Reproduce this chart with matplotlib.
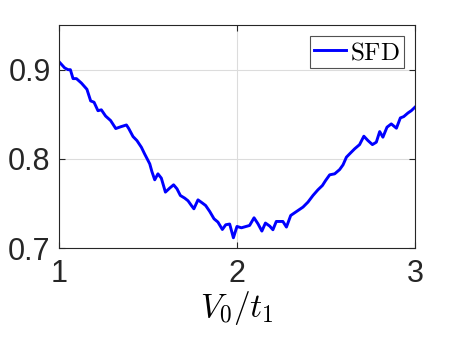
import matplotlib
matplotlib.use("Agg")
import matplotlib.pyplot as plt

plt.rcParams['mathtext.fontset'] = 'cm'
plt.rcParams['font.family'] = ['Liberation Sans', 'DejaVu Sans']

# traced SFD curve
v0_t1 = [1.000, 1.032, 1.051, 1.064, 1.079, 1.098, 1.126, 1.157, 1.178, 1.197,
         1.219, 1.238, 1.262, 1.290, 1.319, 1.347, 1.379, 1.392, 1.416, 1.438,
         1.463, 1.481, 1.510, 1.522, 1.538, 1.556, 1.575, 1.598, 1.622, 1.644,
         1.663, 1.682, 1.706, 1.725, 1.744, 1.758, 1.781, 1.806, 1.824, 1.847,
         1.871, 1.893, 1.918, 1.937, 1.959, 1.980, 2.000, 2.025, 2.071, 2.096,
         2.118, 2.140, 2.160, 2.184, 2.202, 2.221, 2.258, 2.278, 2.302, 2.324,
         2.371, 2.399, 2.427, 2.455, 2.480, 2.498, 2.521, 2.549, 2.577, 2.596,
         2.615, 2.637, 2.661, 2.689, 2.713, 2.736, 2.761, 2.783, 2.802, 2.820,
         2.843, 2.867, 2.896, 2.918, 2.937, 2.961, 2.980, 3.000]
sfd = [0.909, 0.902, 0.900, 0.900, 0.890, 0.890, 0.885, 0.878, 0.865, 0.8635,
       0.854, 0.855, 0.848, 0.843, 0.834, 0.836, 0.838, 0.834, 0.825, 0.8205,
       0.813, 0.8056, 0.7944, 0.7858, 0.7765, 0.7832, 0.7784, 0.7627, 0.7672, 0.7709,
       0.7664, 0.7589, 0.756, 0.753, 0.7477, 0.744, 0.754, 0.7504, 0.7477, 0.741,
       0.7328, 0.7291, 0.7208, 0.7261, 0.7269, 0.7115, 0.7242, 0.7227, 0.7253, 0.7339,
       0.7272, 0.7190, 0.7280, 0.7246, 0.7205, 0.7298, 0.7298, 0.7235, 0.7365, 0.7395,
       0.7459, 0.7515, 0.7589, 0.7653, 0.7701, 0.7757, 0.7821, 0.7832, 0.7880, 0.7933,
       0.8019, 0.8064, 0.8112, 0.8160, 0.8254, 0.8205, 0.8160, 0.8187, 0.8306, 0.8243,
       0.8355, 0.8392, 0.8344, 0.8459, 0.8474, 0.8515, 0.8541, 0.8579]

xticks = [1, 2, 3]
yticks = [0.7, 0.8, 0.9]

fig = plt.figure(figsize=(4.59, 3.44), dpi=100)
ax = fig.add_axes([0.1285, 0.279, 0.7755, 0.648])

ax.plot(v0_t1, sfd, color='#0000ff', linewidth=2.1, label=r'$\mathrm{SFD}$')

ax.set_xlim(1, 3)
ax.set_ylim(0.70, 0.95)
ax.set_xticks(xticks)
ax.set_yticks(yticks)
ax.set_xticklabels(['1', '2', '3'])
ax.set_yticklabels(['0.7', '0.8', '0.9'])
ax.grid(True, color='#dcdcdc', linewidth=0.8)
ax.set_axisbelow(True)

ax.tick_params(direction='in', length=4, width=0.8, colors='#262626',
               labelsize=22, top=True, right=True)
ax.tick_params(axis='x', pad=8)
ax.tick_params(axis='y', pad=6)
for s in ax.spines.values():
    s.set_color('#262626')
    s.set_linewidth(0.8)

ax.set_xlabel(r'$V_0/t_1$', fontsize=24, labelpad=0)

leg = ax.legend(loc='upper right', fontsize=18, frameon=True, fancybox=False,
                handlelength=1.3, handletextpad=0.15, borderpad=0.15,
                borderaxespad=0.45)
leg.get_frame().set_edgecolor('#262626')
leg.get_frame().set_linewidth(0.8)

fig.savefig('out.png', dpi=100)
